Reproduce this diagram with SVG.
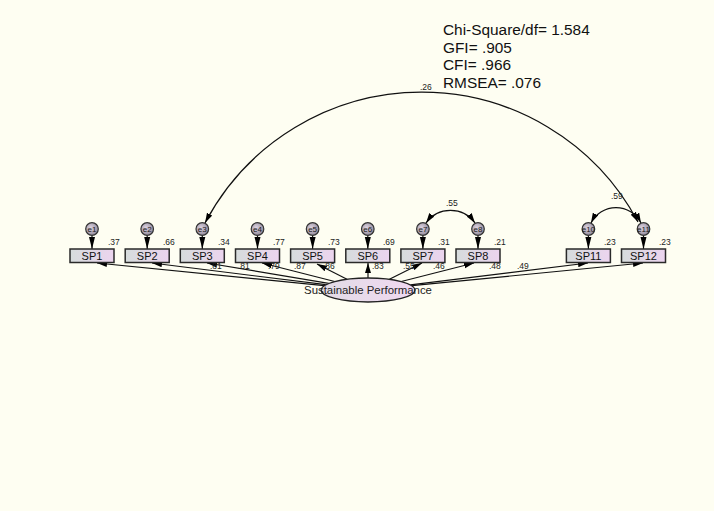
<svg xmlns="http://www.w3.org/2000/svg" width="714" height="511" viewBox="0 0 714 511">
<defs>
<linearGradient id="boxg" x1="0" y1="0" x2="1" y2="0">
<stop offset="0" stop-color="#d6dcdc"/>
<stop offset="1" stop-color="#ecd4ef"/>
</linearGradient>
<radialGradient id="errg" cx="0.4" cy="0.4" r="0.7">
<stop offset="0" stop-color="#ddd4e2"/>
<stop offset="1" stop-color="#8a8292"/>
</radialGradient>
<linearGradient id="latg" x1="0" y1="0" x2="1" y2="0">
<stop offset="0" stop-color="#e2dce6"/>
<stop offset="1" stop-color="#f0d8f0"/>
</linearGradient>
<marker id="ah" viewBox="0 0 10 6" refX="10" refY="3" markerWidth="10" markerHeight="6.5" markerUnits="userSpaceOnUse" orient="auto-start-reverse">
<path d="M0,0 L10,3 L0,6 z" fill="#000"/>
</marker>
<marker id="ahe" viewBox="0 0 12 6" refX="12" refY="3" markerWidth="12" markerHeight="7" markerUnits="userSpaceOnUse" orient="auto">
<path d="M0,0 L12,3 L0,6 z" fill="#000"/>
</marker>
</defs>
<style>
.box{fill:url(#boxg);stroke:#2a2a2a;stroke-width:1.5}
.err{fill:url(#errg);stroke:#333;stroke-width:1.2}
.lat{fill:url(#latg);stroke:#222;stroke-width:1.3}
.lbl{font-family:"Liberation Sans",Arial,sans-serif;font-size:11px;fill:#111;text-anchor:middle}
.et{font-family:"Liberation Sans",Arial,sans-serif;font-size:8px;fill:#1a1a1a;text-anchor:middle}
.num{font-family:"Liberation Sans",Arial,sans-serif;font-size:8.5px;fill:#222}
.stat{font-family:"Liberation Sans",Arial,sans-serif;font-size:15.4px;fill:#111}
.ln{fill:none;stroke:#111;stroke-width:1.2}
</style>
<rect width="714" height="511" fill="#fefef2"/>

<g id="connectors">
<line class="ln" x1="324.2" y1="285.6" x2="97" y2="263" marker-end="url(#ah)"/>
<line class="ln" x1="325.8" y1="284.7" x2="152" y2="263" marker-end="url(#ah)"/>
<line class="ln" x1="328.7" y1="283.4" x2="207" y2="263" marker-end="url(#ah)"/>
<line class="ln" x1="334.7" y1="281.5" x2="262" y2="263" marker-end="url(#ah)"/>
<line class="ln" x1="347" y1="279.3" x2="317" y2="264" marker-end="url(#ah)"/>
<line class="ln" x1="368" y1="278" x2="368" y2="263" marker-end="url(#ah)"/>
<line class="ln" x1="389.4" y1="279.3" x2="422" y2="263" marker-end="url(#ah)"/>
<line class="ln" x1="401.3" y1="281.5" x2="474" y2="263" marker-end="url(#ah)"/>
<line class="ln" x1="410.4" y1="284.8" x2="588" y2="263" marker-end="url(#ah)"/>
<line class="ln" x1="411.9" y1="285.7" x2="643" y2="263" marker-end="url(#ah)"/>
<line class="ln" x1="92" y1="235" x2="92" y2="249" marker-end="url(#ahe)"/>
<line class="ln" x1="147.2" y1="235" x2="147.2" y2="249" marker-end="url(#ahe)"/>
<line class="ln" x1="202.3" y1="235" x2="202.3" y2="249" marker-end="url(#ahe)"/>
<line class="ln" x1="257.5" y1="235" x2="257.5" y2="249" marker-end="url(#ahe)"/>
<line class="ln" x1="312.6" y1="235" x2="312.6" y2="249" marker-end="url(#ahe)"/>
<line class="ln" x1="367.8" y1="235" x2="367.8" y2="249" marker-end="url(#ahe)"/>
<line class="ln" x1="422.9" y1="235" x2="422.9" y2="249" marker-end="url(#ahe)"/>
<line class="ln" x1="478" y1="235" x2="478" y2="249" marker-end="url(#ahe)"/>
<line class="ln" x1="588.4" y1="235" x2="588.4" y2="249" marker-end="url(#ahe)"/>
<line class="ln" x1="643.5" y1="235" x2="643.5" y2="249" marker-end="url(#ahe)"/>
<path class="ln" d="M205,223 A245,245 0 0 1 638,222" marker-start="url(#ah)" marker-end="url(#ah)"/>
<path class="ln" d="M426,223 A30,30 0 0 1 475,223" marker-start="url(#ah)" marker-end="url(#ah)"/>
<path class="ln" d="M591,223 A28,28 0 0 1 641,223" marker-start="url(#ah)" marker-end="url(#ah)"/>
<text class="num" x="420" y="90">.26</text>
<text class="num" x="446" y="206">.55</text>
<text class="num" x="611" y="199">.59</text>
<text class="num" x="210" y="269">.81</text>
<text class="num" x="238" y="269">.81</text>
<text class="num" x="268" y="269">.79</text>
<text class="num" x="294" y="269">.87</text>
<text class="num" x="323" y="269">.86</text>
<text class="num" x="372" y="269">.83</text>
<text class="num" x="403" y="269">.55</text>
<text class="num" x="433" y="269">.46</text>
<text class="num" x="489" y="269">.48</text>
<text class="num" x="517" y="269">.49</text>
</g>

<g id="SP1"><rect class="box" x="70" y="249" width="44" height="13.5"/><text class="lbl" x="92" y="260">SP1</text><text class="num" x="108" y="245">.37</text></g>
<g id="SP2"><rect class="box" x="125.2" y="249" width="44" height="13.5"/><text class="lbl" x="147.2" y="260">SP2</text><text class="num" x="163" y="245">.66</text></g>
<g id="SP3"><rect class="box" x="180.3" y="249" width="44" height="13.5"/><text class="lbl" x="202.3" y="260">SP3</text><text class="num" x="218" y="245">.34</text></g>
<g id="SP4"><rect class="box" x="235.5" y="249" width="44" height="13.5"/><text class="lbl" x="257.5" y="260">SP4</text><text class="num" x="273" y="245">.77</text></g>
<g id="SP5"><rect class="box" x="290.6" y="249" width="44" height="13.5"/><text class="lbl" x="312.6" y="260">SP5</text><text class="num" x="328" y="245">.73</text></g>
<g id="SP6"><rect class="box" x="345.8" y="249" width="44" height="13.5"/><text class="lbl" x="367.8" y="260">SP6</text><text class="num" x="383" y="245">.69</text></g>
<g id="SP7"><rect class="box" x="400.9" y="249" width="44" height="13.5"/><text class="lbl" x="422.9" y="260">SP7</text><text class="num" x="438" y="245">.31</text></g>
<g id="SP8"><rect class="box" x="456" y="249" width="44" height="13.5"/><text class="lbl" x="478" y="260">SP8</text><text class="num" x="494" y="245">.21</text></g>
<g id="SP11"><rect class="box" x="566.4" y="249" width="44" height="13.5"/><text class="lbl" x="588.4" y="260">SP11</text><text class="num" x="604" y="245">.23</text></g>
<g id="SP12"><rect class="box" x="621.5" y="249" width="44" height="13.5"/><text class="lbl" x="643.5" y="260">SP12</text><text class="num" x="659" y="245">.23</text></g>

<g id="e1"><circle class="err" cx="92" cy="229" r="6.3"/><text class="et" x="92" y="232">e1</text></g>
<g id="e2"><circle class="err" cx="147.2" cy="229" r="6.3"/><text class="et" x="147.2" y="232">e2</text></g>
<g id="e3"><circle class="err" cx="202.3" cy="229" r="6.3"/><text class="et" x="202.3" y="232">e3</text></g>
<g id="e4"><circle class="err" cx="257.5" cy="229" r="6.3"/><text class="et" x="257.5" y="232">e4</text></g>
<g id="e5"><circle class="err" cx="312.6" cy="229" r="6.3"/><text class="et" x="312.6" y="232">e5</text></g>
<g id="e6"><circle class="err" cx="367.8" cy="229" r="6.3"/><text class="et" x="367.8" y="232">e6</text></g>
<g id="e7"><circle class="err" cx="422.9" cy="229" r="6.3"/><text class="et" x="422.9" y="232">e7</text></g>
<g id="e8"><circle class="err" cx="478" cy="229" r="6.3"/><text class="et" x="478" y="232">e8</text></g>
<g id="e10"><circle class="err" cx="588.4" cy="229" r="6.3"/><text class="et" x="588.4" y="232">e10</text></g>
<g id="e11"><circle class="err" cx="643.5" cy="229" r="6.3"/><text class="et" x="643.5" y="232">e11</text></g>

<g id="SustainablePerformance">
<ellipse class="lat" cx="368" cy="290" rx="47" ry="12"/>
<text class="lbl" x="368" y="294" style="font-size:11.4px;fill:#222">Sustainable Performance</text>
</g>

<g id="fit">
<text class="stat" x="443" y="35">Chi-Square/df= 1.584</text>
<text class="stat" x="443" y="52.5">GFI= .905</text>
<text class="stat" x="443" y="70">CFI= .966</text>
<text class="stat" x="443" y="87.5">RMSEA= .076</text>
</g>
</svg>
